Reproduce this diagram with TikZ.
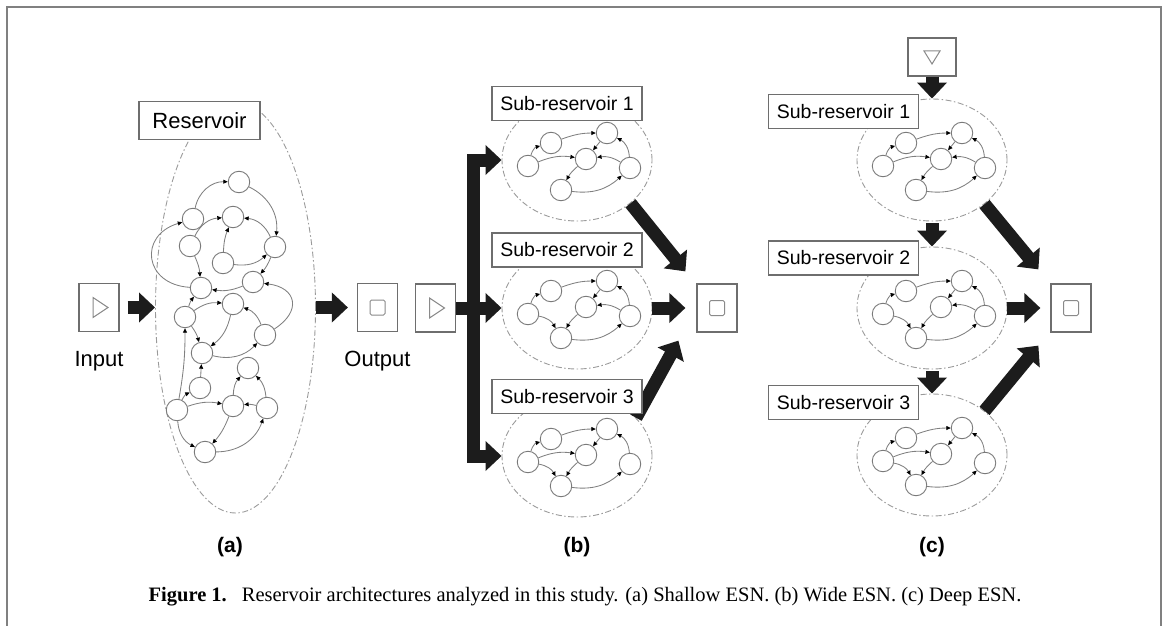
\documentclass[tikz,border=0pt]{standalone}
\usepackage{fontspec}
\setmainfont{Liberation Serif}
\setsansfont{Liberation Sans}
\usetikzlibrary{arrows.meta,shapes.geometric}

\definecolor{framegray}{HTML}{808080}
\definecolor{boxgray}{HTML}{6E6E6E}
\definecolor{unitgray}{HTML}{7A7A7A}
\definecolor{linkgray}{HTML}{808080}
\definecolor{poolgray}{HTML}{9A9A9A}
\definecolor{symgray}{HTML}{8A8A8A}
\definecolor{fatblack}{HTML}{1C1C1C}

\tikzset{
  unit/.style={circle,draw=unitgray,fill=white,line width=.9pt,minimum size=21.5pt,inner sep=0pt},
  link/.style={draw=linkgray,line width=.85pt,-{Triangle[length=4.5pt,width=4pt,color=black]}},
  pool/.style={ellipse,draw=poolgray,line width=.9pt,dash pattern=on 6pt off 2.5pt on 1.5pt off 2.5pt,inner sep=0pt},
  namebox/.style={draw=boxgray,fill=white,line width=1.1pt,minimum width=150pt,minimum height=34pt,inner sep=0pt,font=\sffamily\fontsize{19.5}{20}\selectfont},
  iobox/.style={draw=boxgray,fill=white,line width=1.2pt,minimum width=40pt,minimum height=48pt,inner sep=0pt},
  iotext/.style={font=\sffamily\fontsize{22}{22}\selectfont},
  tag/.style={font=\sffamily\bfseries\fontsize{21}{21}\selectfont},
  fatarrow/.style={draw=fatblack,line width=13pt,-{Triangle[length=16pt,width=29pt]}},
  symbol/.style={draw=symgray,line width=1pt},
}

% six units of a sub-reservoir: prefix, centre x, centre y, extra links
\newcommand{\subpool}[4]{%
  \foreach \n/\dx/\dy in {A/-26/-17,B/-49/6,C/30/-27,D/9/-1,E/53/8,F/-16/30}
    \node[unit] (#1\n) at (#2+\dx,#3+\dy) {};
  \foreach \u/\v/\b in {B/A/30,A/C/10,C/D/0,E/C/-30,D/F/-10,F/E/-25,#4}
    \draw[link] (#1\u) to[bend left=\b] (#1\v);
}

\begin{document}
\begin{tikzpicture}[x=1pt,y=-1pt]
  \useasboundingbox (0,0) rectangle (1165,626);

  % frame
  \draw[framegray,line width=1.3pt] (6,7) -- (1162,7);
  \draw[framegray,line width=2pt] (7,7) -- (7,626);
  \draw[framegray,line width=2.5pt] (1161,7) -- (1161,626);

  % (a) shallow
  \node[pool,minimum width=160pt,minimum height=411pt] (res) at (235.5,307.5) {};
  \foreach \n/\x/\y in {1/239/182,2/193/219,3/233/217,4/190/246,5/275/247,6/223/263,
      7/201/288,8/253/282,9/233/304,10/185/317,11/265/335,12/202/353,13/248/368,
      14/200/388,15/177/410,16/233/406,17/267/408,18/205/452}
    \node[unit] (r\n) at (\x,\y) {};
  \foreach \u/\v/\b in {2/1/40,1/5/35,4/7/10,6/3/10,4/3/30,5/3/-30,6/5/-25,8/7/15,
      5/8/10,10/9/20,9/12/20,10/12/10,12/11/-30,11/9/-25,14/12/0,15/14/20,15/10/-5,
      15/16/15,17/16/-10,16/13/20,17/13/-20,15/18/-30,16/18/10,18/17/-35,10/7/10}
    \draw[link] (r\u) to[bend left=\b] (r\v);
  \draw[link] (r7) to[bend left=80,looseness=1.8] (r2);
  \draw[link] (r11) to[bend right=70,looseness=1.8] (r8);

  \node[iobox] (ina) at (99,307.5) {};
  \draw[symbol] ([shift={(-6,-10)}]ina.center) -- ++(15,10) -- ++(-15,10) -- cycle;
  \node[iotext] (intxt) at (99,361) {Input};
  \node[iobox] (outa) at (377.5,307.5) {};
  \draw[symbol,rounded corners=1.5pt] ([shift={(-7.5,-7.5)}]outa.center) rectangle ++(15,15);
  \node[iotext] (outtxt) at (377.5,361) {Output};

  \draw[fatarrow,shorten <=8pt] (ina) -- (res);
  \draw[fatarrow,shorten >=9pt] (res) -- (outa);
  \node[namebox,minimum width=121pt,minimum height=38pt,font=\sffamily\fontsize{22}{22}\selectfont] (resname) at (199.5,120.5) {Reservoir};
  \node[tag] (ta) at (230,547) {(a)};

  % (b) wide
  \node[pool,minimum width=150pt,minimum height=122pt] (sb1) at (577,160) {};
  \node[pool,minimum width=150pt,minimum height=122pt] (sb2) at (577,308) {};
  \node[pool,minimum width=150pt,minimum height=122pt] (sb3) at (577,456) {};
  \subpool{b1}{577}{160}{B/D/15,E/D/-20}
  \subpool{b2}{577}{308}{B/F/25,E/D/-20}
  \subpool{b3}{577}{456}{B/D/15,B/F/25}

  \node[iobox] (inb) at (435.5,308) {};
  \draw[symbol] ([shift={(-6,-10)}]inb.center) -- ++(15,10) -- ++(-15,10) -- cycle;
  \node[iobox] (outb) at (717,308) {};
  \draw[symbol,rounded corners=1.5pt] ([shift={(-7.5,-7.5)}]outb.center) rectangle ++(15,15);
  \coordinate (bar) at (473.5,308);

  \draw[fatarrow] (inb) -- (sb2);
  \draw[fatarrow] (bar) |- (sb1.west);
  \draw[fatarrow] (bar) |- (sb3.west);
  \draw[fatarrow] (sb1.-39) -- ([shift={(-11,-12)}]outb.north west);
  \draw[fatarrow,shorten >=11pt] (sb2) -- (outb);
  \draw[fatarrow] (sb3.33) -- ([shift={(-18,8)}]outb.south west);

  \node[namebox] (nb1) at (567,103.5) {Sub-reservoir 1};
  \node[namebox] (nb2) at (567,250) {Sub-reservoir 2};
  \node[namebox] (nb3) at (567,396.5) {Sub-reservoir 3};
  \node[tag] (tb) at (577,547) {(b)};

  % (c) deep
  \node[pool,minimum width=150pt,minimum height=122pt] (sc1) at (932,160) {};
  \node[pool,minimum width=150pt,minimum height=122pt] (sc2) at (932,308) {};
  \node[pool,minimum width=150pt,minimum height=122pt] (sc3) at (932,455) {};
  \subpool{c1}{932}{160}{B/D/15,E/D/-20}
  \subpool{c2}{932}{308}{B/F/25,E/D/-20}
  \subpool{c3}{932}{455}{B/D/15,B/F/25}

  \node[iobox,minimum width=48pt,minimum height=38pt] (inc) at (932,57) {};
  \draw[symbol] ([shift={(-8,-6)}]inc.center) -- ++(16,0) -- ++(-8,13) -- cycle;
  \node[iobox] (outc) at (1071,308) {};
  \draw[symbol,rounded corners=1.5pt] ([shift={(-7.5,-7.5)}]outc.center) rectangle ++(15,15);

  \draw[fatarrow] (inc) -- (sc1);
  \draw[fatarrow,shorten <=2pt] (sc1) -- (sc2);
  \draw[fatarrow,shorten <=2pt] (sc2) -- (sc3);
  \draw[fatarrow] (sc1.-40) -- ([shift={(-12,-14)}]outc.north west);
  \draw[fatarrow,shorten >=10pt] (sc2) -- (outc);
  \draw[fatarrow] (sc3.40) -- ([shift={(-12,13)}]outc.south west);

  \node[namebox] (nc1) at (843.5,111.5) {Sub-reservoir 1};
  \node[namebox] (nc2) at (843.5,258) {Sub-reservoir 2};
  \node[namebox] (nc3) at (843.5,402.5) {Sub-reservoir 3};
  \node[tag] (tc) at (932,547) {(c)};

  % caption
  \node[font=\fontsize{20.5}{21}\selectfont] (cap) at (585,597)
    {\textbf{Figure 1.}\hspace{15pt}Reservoir architectures analyzed in this study. (a) Shallow ESN. (b) Wide ESN. (c) Deep ESN.};
\end{tikzpicture}
\end{document}
